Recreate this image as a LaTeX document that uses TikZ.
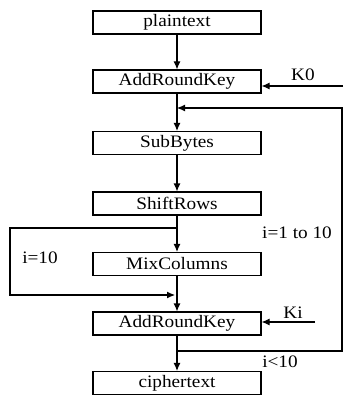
\documentclass[tikz,border=0pt]{standalone}
\usepackage{fontspec}
\setmainfont[FakeStretch=1.1]{Liberation Serif}
\usetikzlibrary{arrows.meta}
\begin{document}
\begin{tikzpicture}[x=1pt,y=-1pt,
  stagebox/.style={draw,line width=1.1pt,minimum width=168pt,minimum height=23pt,inner sep=0pt,font=\fontsize{17.5}{20}\selectfont},
  lbl/.style={font=\fontsize{17.5}{20}\selectfont,inner sep=0pt},
  arr/.style={line width=1.1pt,-{Latex[length=8pt,width=7pt]}},
  ln/.style={line width=1.1pt}]
\useasboundingbox (0,0) rectangle (343,396);
\node[stagebox] (pt)  at (177,22.5) {plaintext};
\node[stagebox] (ark1) at (177,81.5) {AddRoundKey};
\node[stagebox] (sb)  at (177,143) {SubBytes};
\node[stagebox] (sr)  at (177,203.5) {ShiftRows};
\node[stagebox] (mc)  at (177,264) {MixColumns};
\node[stagebox] (ark2) at (177,323.5) {AddRoundKey};
\node[stagebox] (ct)  at (177,383) {ciphertext};
\draw[arr] (pt) -- (ark1);
\draw[arr] (ark1) -- (sb);
\draw[arr] (sb) -- (sr);
\draw[arr] (sr) -- (mc);
\draw[arr] (mc) -- (ark2);
\draw[arr] (ark2) -- (ct);
% K0
\coordinate (k0) at (343,86);
\draw[arr] (k0) -- (k0 -| ark1.east);
\node[lbl] (k0l) at (303,75) {K0};
% Ki
\coordinate (ki) at (315,322);
\draw[arr] (ki) -- (ki -| ark2.east);
\node[lbl] (kil) at (293,313) {Ki};
% loop
\coordinate (lb) at (177,351);
\coordinate (cr1) at (342,351);
\coordinate (cr2) at (342,108);
\coordinate (lt) at (177,108);
\draw[arr] (lb) -- (cr1) -- (cr2) -- (lt);
% bypass
\coordinate (bs) at (177,228);
\coordinate (bl1) at (10,228);
\coordinate (bl2) at (10,295);
\coordinate (be) at (175,295);
\draw[arr] (bs) -- (bl1) -- (bl2) -- (be);
\node[lbl] (l1) at (297,233) {i=1 to 10};
\node[lbl] (l2) at (40,258) {i=10};
\node[lbl] (l3) at (280,362) {i<10};
\end{tikzpicture}
\end{document}
